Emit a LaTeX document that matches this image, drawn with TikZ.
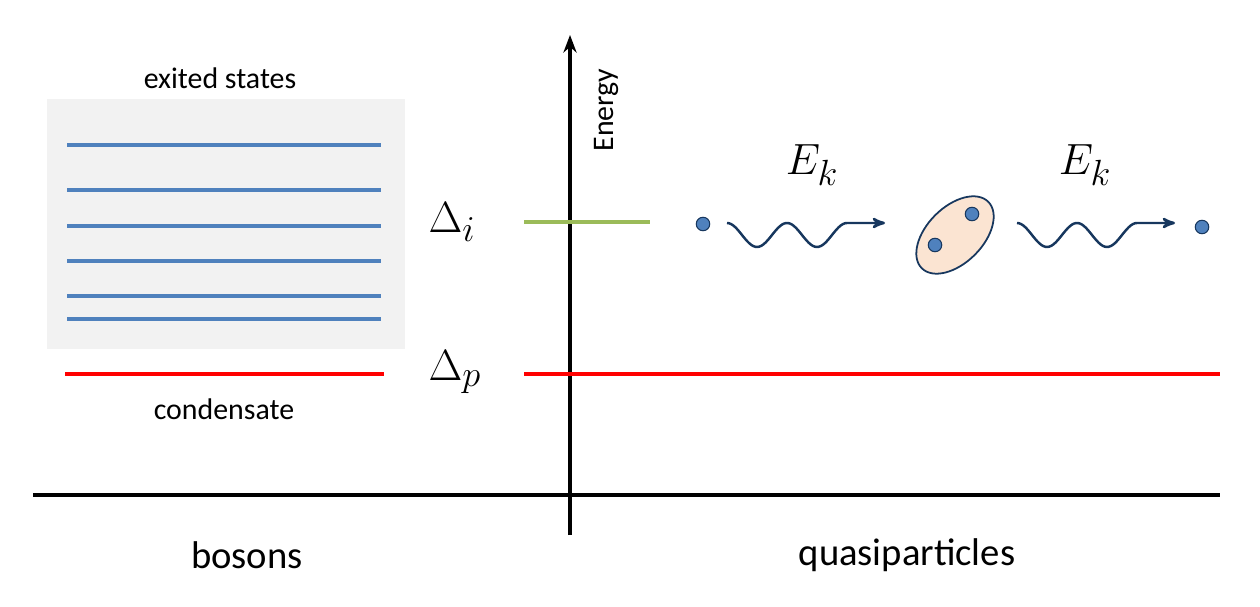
\documentclass[tikz,border=0pt]{standalone}
\usepackage{fontspec}
\setmainfont{Carlito}
\usepackage{amsmath}
\usetikzlibrary{arrows,arrows.meta,positioning,calc}
\definecolor{lvlblue}{RGB}{79,129,189}
\definecolor{lvlgreen}{RGB}{155,187,89}
\definecolor{navy}{RGB}{23,55,94}
\definecolor{pairfill}{RGB}{251,228,210}
\tikzset{
	level/.style={line width=1.8pt},
	lbl/.style={font=\fontsize{17}{20}\selectfont},
	big/.style={font=\fontsize{22}{26}\selectfont},
	sym/.style={font=\fontsize{30}{36}\selectfont},
	dot/.style={circle,fill=lvlblue,draw=navy,line width=0.6pt,inner sep=0pt,minimum size=0.27cm},
	wave/.style={navy,line width=1.4pt,->,>=stealth'}
}
\begin{document}
\begin{tikzpicture}[x=0.02cm,y=-0.02cm]
	\useasboundingbox (0,0) rectangle (1260,607);
	% excited states
	\fill[gray!10] (47,99) rectangle (405,349);
	\foreach \y in {145,190,226,261,296,319}
		\draw[level,lvlblue] (67,\y) -- (381,\y);
	\node[lbl] (exc) at (220,78) {exited states};
	\draw[level,red] (65,374) -- (384,374);
	\node[lbl] (cond) at (224,409) {condensate};
	% axes
	\coordinate (ybot) at (570,535);
	\coordinate (ytop) at (570,35);
	\coordinate (xl) at (33,495);
	\coordinate (xr) at (1220,495);
	\draw[line width=1.8pt,-{Stealth[length=10pt]}] (ybot) -- (ytop);
	\draw[line width=1.8pt] (xl) -- (xr);
	\node[lbl,rotate=90] (en) at (606,110) {Energy};
	% gaps
	\node[sym] (di) at (452,222) {$\Delta_i$};
	\node[sym] (dp) at (455,372) {$\Delta_p$};
	\draw[level,lvlgreen] (524,222) -- (650,222);
	\draw[level,red] (524,374) -- (1220,374);
	% quasiparticles
	\node[dot] (q1) at (703,224) {};
	\draw[wave] plot[domain=0:120,samples=60] ({727+\x},{235-12*cos(\x*6)}) -- (885,223);
	\node[sym] (ek1) at (812,165) {$E_k$};
	\draw[navy,line width=1pt,fill=pairfill,rotate around={45:(955,235)}] (955,235) ellipse (47 and 28);
	\node[dot] (p1) at (972,214) {};
	\node[dot] (p2) at (935,245) {};
	\draw[wave] plot[domain=0:120,samples=60] ({1017+\x},{235-12*cos(\x*6)}) -- (1175,223);
	\node[sym] (ek2) at (1085,165) {$E_k$};
	\node[dot] (q2) at (1202,227) {};
	% labels
	\node[big] (bos) at (247,555) {bosons};
	\node[big] (qp) at (907,555) {quasiparticles};
\end{tikzpicture}
\end{document}
